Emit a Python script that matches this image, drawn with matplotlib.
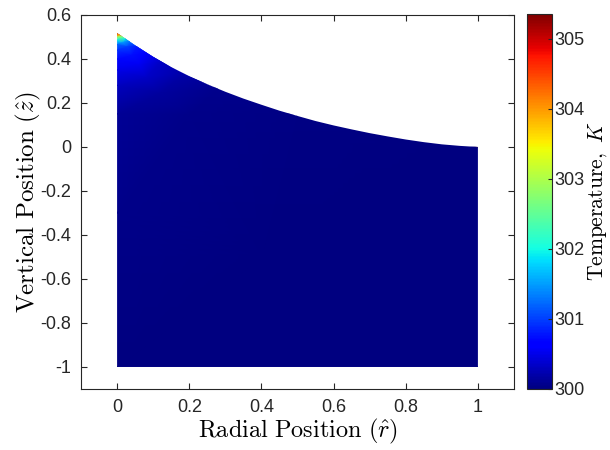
import numpy as np
import matplotlib
matplotlib.use("Agg")
import matplotlib.pyplot as plt
import matplotlib.tri as mtri
from matplotlib.patches import Polygon

plt.rcParams['font.family'] = ['Liberation Sans', 'DejaVu Sans']
plt.rcParams['mathtext.fontset'] = 'cm'
plt.rcParams['axes.unicode_minus'] = False

# free surface (top boundary) of the domain
rTop = [0, 0.05, 0.10, 0.15, 0.20, 0.25, 0.30, 0.35, 0.40, 0.45, 0.50,
        0.55, 0.60, 0.65, 0.70, 0.75, 0.80, 0.85, 0.90, 0.95, 1.0]
zTop = [0.518, 0.462, 0.410, 0.363, 0.322, 0.285, 0.251, 0.220, 0.192, 0.165, 0.141,
        0.118, 0.098, 0.080, 0.063, 0.048, 0.034, 0.022, 0.012, 0.005, 0.0]
zBottom = -1.0

# temperature samples (r, z, T)
rPts = [0.000, 0.006, 0.000, 0.012, 0.000, 0.010, 0.022, 0.000, 0.035, 0.015,
        0.000, 0.030, 0.055, 0.000, 0.040, 0.080, 0.000, 0.060, 0.120, 0.000,
        0.080, 0.180, 0.000, 0.120, 0.280, 0.000, 0.200,
        0.000, 1.000, 1.000, 0.500, 0.000, 0.400]
zPts = [0.518, 0.512, 0.508, 0.505, 0.498, 0.495, 0.495, 0.485, 0.480, 0.475,
        0.465, 0.455, 0.458, 0.440, 0.420, 0.430, 0.400, 0.380, 0.390, 0.350,
        0.320, 0.330, 0.280, 0.250, 0.270, 0.150, 0.150,
        -1.000, -1.000, 0.000, 0.150, -0.300, -0.500]
tPts = [305.35, 304.2, 304.0, 303.0, 302.8, 302.5, 302.0, 301.9, 301.3, 301.5,
        301.2, 301.0, 300.8, 300.9, 300.75, 300.6, 300.7, 300.55, 300.35, 300.5,
        300.35, 300.2, 300.3, 300.15, 300.08, 300.12, 300.05,
        300.02, 300.0, 300.02, 300.03, 300.05, 300.02]

xTicks = [0, 0.2, 0.4, 0.6, 0.8, 1]
xTickLabels = ["0", "0.2", "0.4", "0.6", "0.8", "1"]
yTicks = [-1, -0.8, -0.6, -0.4, -0.2, 0, 0.2, 0.4, 0.6]
yTickLabels = ["-1", "-0.8", "-0.6", "-0.4", "-0.2", "0", "0.2", "0.4", "0.6"]
cTicks = [300, 301, 302, 303, 304, 305]
tMin, tMax = 300, 305.35

fig = plt.figure(figsize=(6.1, 4.5), dpi=100)
ax = fig.add_axes([0.1328, 0.1356, 0.7098, 0.8311])
cax = fig.add_axes([0.864, 0.1356, 0.041, 0.8333])

edgeCol = (0.15, 0.15, 0.15)

verts = list(zip(rTop, zTop)) + [(rTop[-1], zBottom), (rTop[0], zBottom)]
domain = Polygon(verts, closed=True, facecolor='none', edgecolor='none')
ax.add_patch(domain)

tri = mtri.Triangulation(rPts, zPts)
tpc = ax.tripcolor(tri, tPts, shading='gouraud', cmap='jet', vmin=tMin, vmax=tMax)
tpc.set_clip_path(domain)

ax.set_xlim(-0.1, 1.1)
ax.set_ylim(-1.1, 0.6)
ax.set_xticks(xTicks)
ax.set_xticklabels(xTickLabels)
ax.set_yticks(yTicks)
ax.set_yticklabels(yTickLabels)
ax.tick_params(direction='in', length=4, top=True, right=True, labelsize=13,
               color=edgeCol, labelcolor=edgeCol, pad=7)
for s in ax.spines.values():
    s.set_color(edgeCol)
    s.set_linewidth(0.8)
ax.set_xlabel(r'$\mathrm{Radial\ Position}\ (\hat{r})$', fontsize=17.5, labelpad=1)
ax.set_ylabel(r'$\mathrm{Vertical\ Position}\ (\hat{z})$', fontsize=18, labelpad=-2)

cb = fig.colorbar(tpc, cax=cax, ticks=cTicks)
cb.outline.set_edgecolor(edgeCol)
cb.outline.set_linewidth(0.8)
cax.tick_params(direction='in', length=3, labelsize=13, color=edgeCol,
                labelcolor=edgeCol, pad=2)
cax.set_ylabel(r'$\mathrm{Temperature,}\ K$', fontsize=15.5, labelpad=1)

fig.savefig("out.png", dpi=100)
